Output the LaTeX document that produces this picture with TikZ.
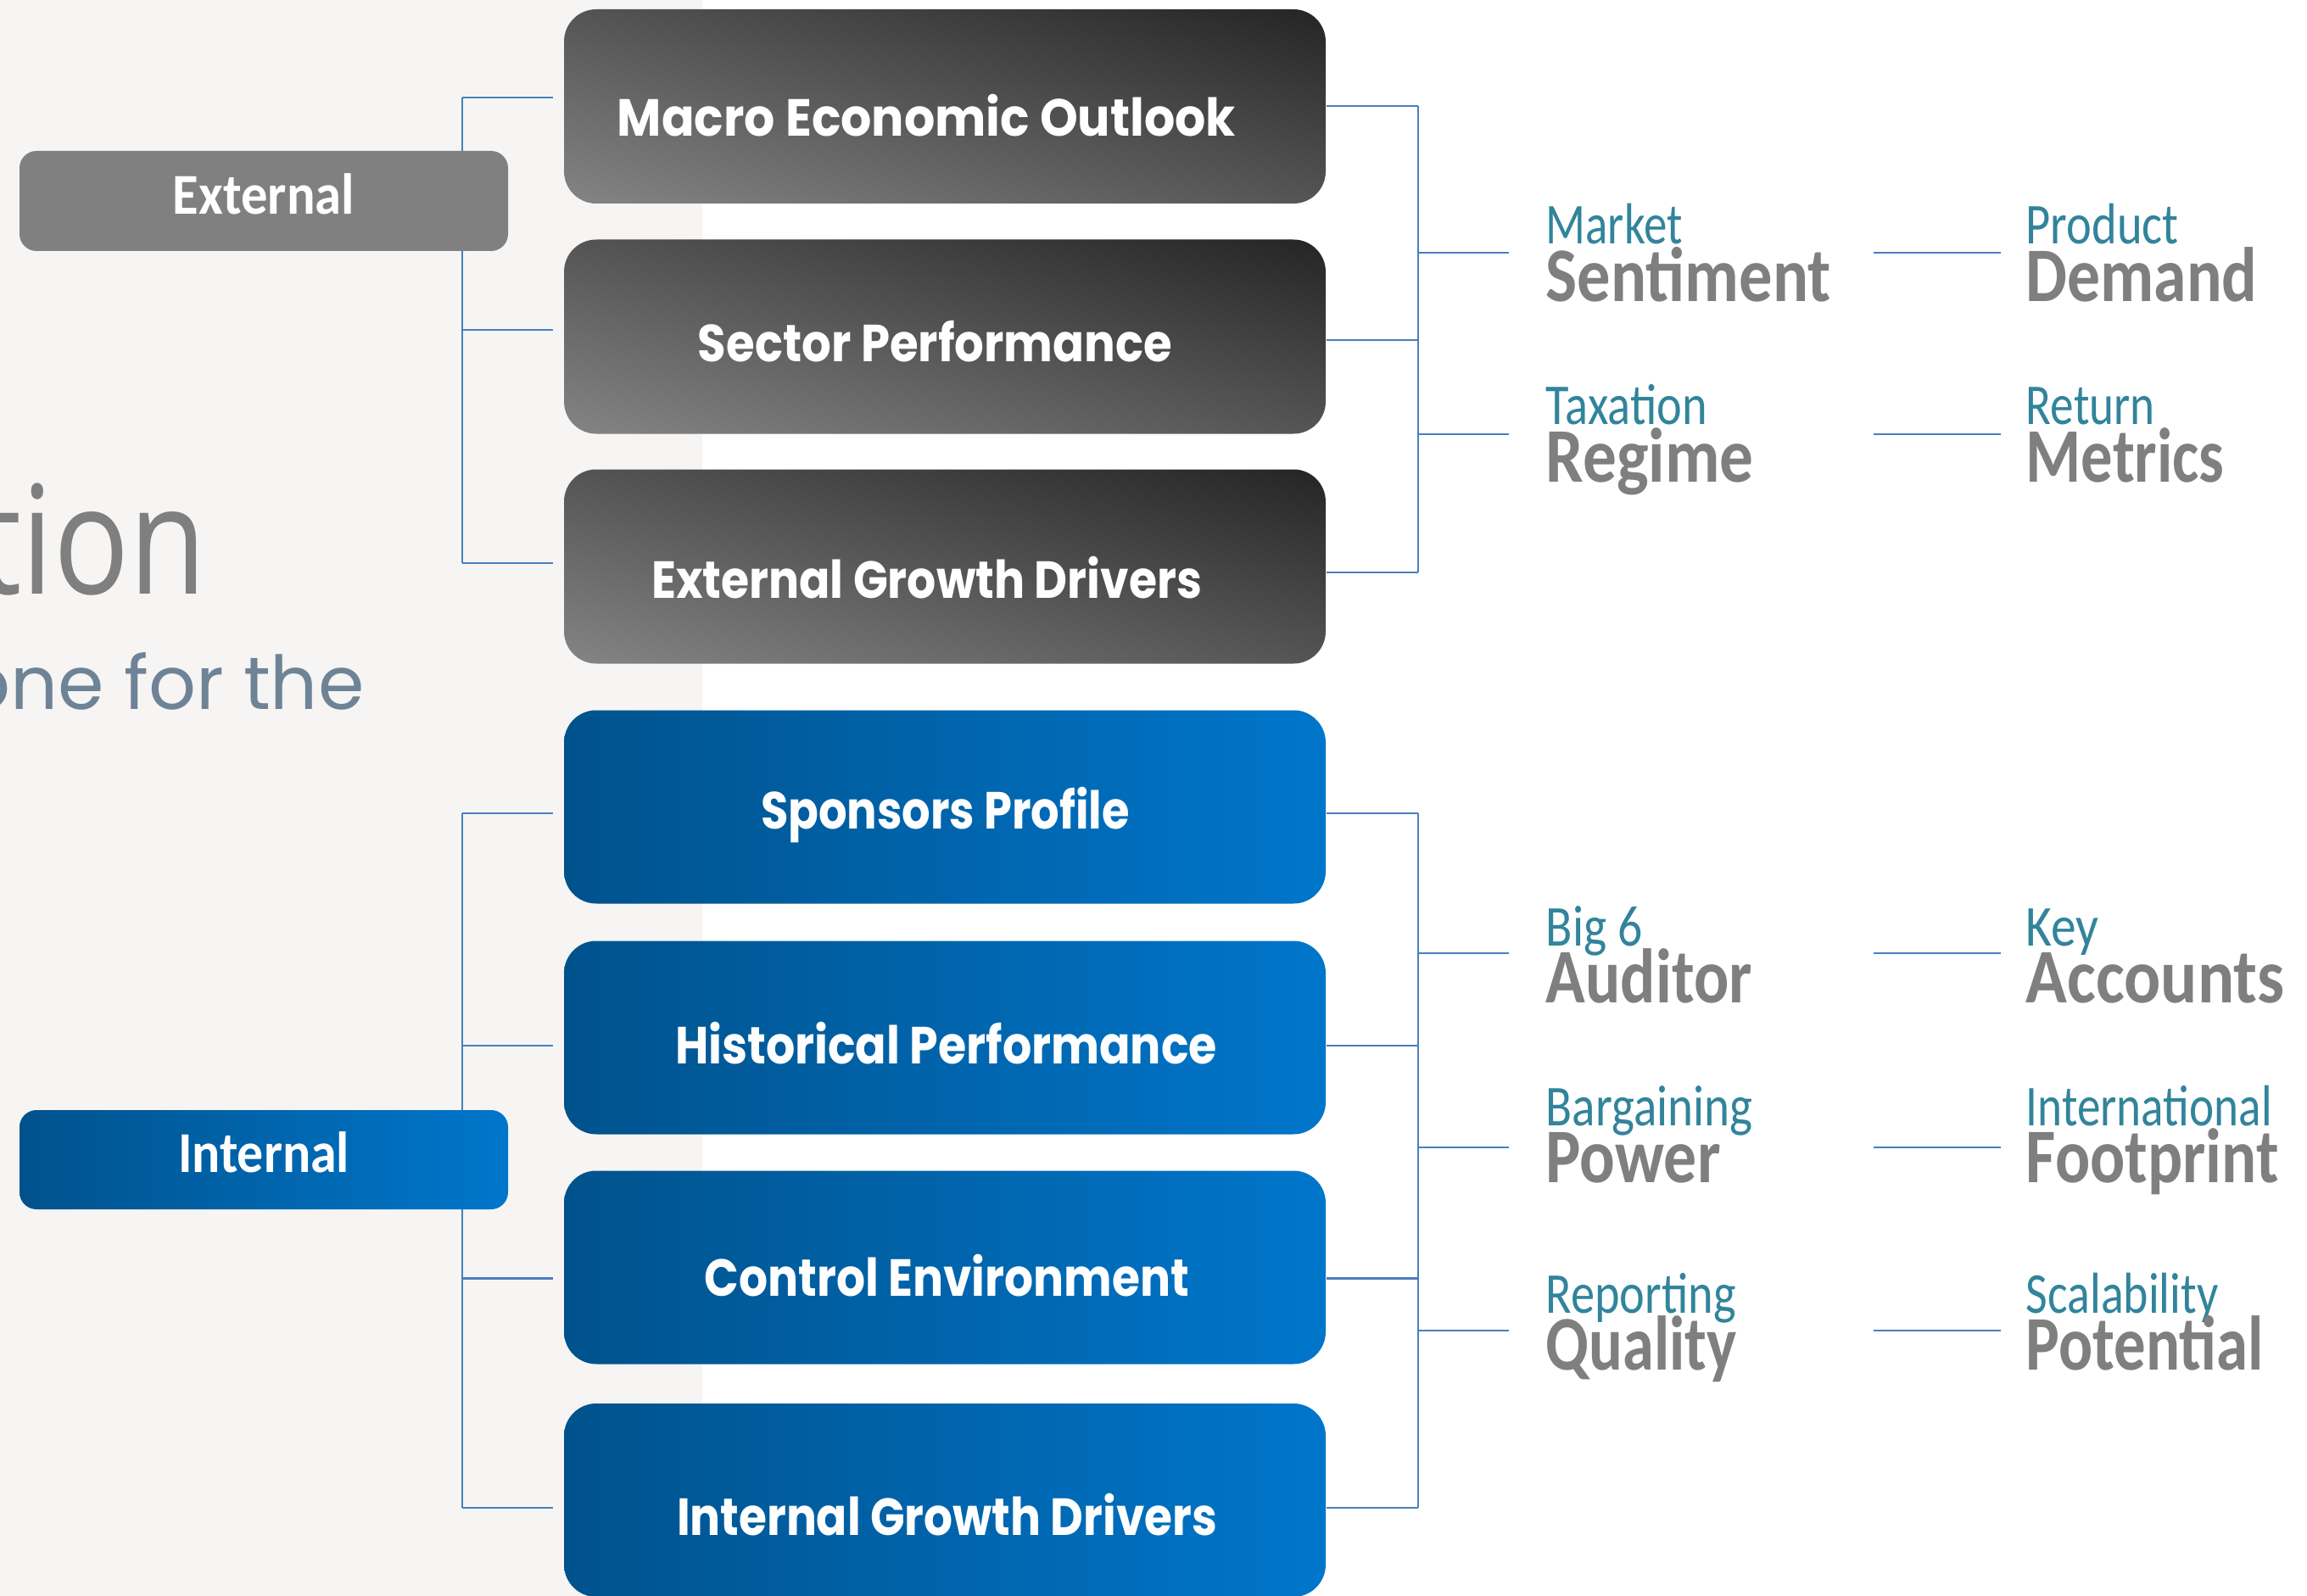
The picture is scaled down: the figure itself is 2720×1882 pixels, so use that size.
\documentclass[tikz,border=0pt]{standalone}
\usepackage{fontspec}
\usepackage{graphicx}
\usetikzlibrary{calc}
\newfontfamily\boxfont{Poppins}
\newfontfamily\lblfont{Carlito}
\newfontfamily\ttlfont{Open Sans}
\newlength\pxu
\setlength\pxu{0.01cm}
\newcommand{\fitw}[2]{\resizebox{#1\pxu}{\height}{#2}}
\definecolor{lineblue}{HTML}{4A7EBF}
\definecolor{bgleft}{HTML}{F6F5F3}
\definecolor{gdark}{HTML}{060606}
\definecolor{glight}{HTML}{A3A3A3}
\definecolor{bdark}{HTML}{00528C}
\definecolor{blight}{HTML}{0076CB}
\definecolor{tealtxt}{HTML}{31849B}
\definecolor{graytxt}{HTML}{7F7F7F}
\definecolor{subtxt}{HTML}{6F8397}
\definecolor{extgray}{HTML}{808080}
\pgfdeclareverticalshading{grayang}{100bp}{color(0bp)=(glight); color(100bp)=(gdark)}
\pgfdeclarelayer{back}
\pgfdeclarelayer{wires}
\pgfsetlayers{back,wires,main}
\begin{document}
\begin{tikzpicture}[x=0.01cm,y=-0.01cm,
  conn/.style={draw=lineblue,line width=2.2\pxu},
  graybox/.style={rounded corners=38\pxu,minimum width=898\pxu,minimum height=229\pxu,inner sep=0pt,shade,shading=grayang,shading angle=-14.3},
  bluebox/.style={rounded corners=38\pxu,minimum width=898\pxu,minimum height=228\pxu,inner sep=0pt,left color=bdark,right color=blight},
  btxt/.style={text=white,inner sep=0pt,anchor=base,font=\boxfont\bfseries\fontsize{17.5pt}{18pt}\selectfont},
  extbox/.style={rounded corners=20\pxu,minimum width=576\pxu,minimum height=118\pxu,inner sep=0pt,fill=extgray},
  intbox/.style={rounded corners=20\pxu,minimum width=576\pxu,minimum height=117\pxu,inner sep=0pt,left color=bdark,right color=blight},
  ltxt/.style={text=white,inner sep=0pt,anchor=base,font=\lblfont\bfseries\fontsize{19.4pt}{20pt}\selectfont},
  sml/.style={text=tealtxt,inner sep=0pt,anchor=base west,font=\lblfont\fontsize{19.4pt}{20pt}\selectfont},
  bigl/.style={text=graytxt,inner sep=0pt,anchor=base west,font=\lblfont\bfseries\fontsize{25.9pt}{26pt}\selectfont},
  ttl/.style={text=graytxt,inner sep=0pt,anchor=base east,font=\ttlfont\fontsize{50.6pt}{51pt}\selectfont},
  subttl/.style={text=subtxt,inner sep=0pt,anchor=base east,font=\boxfont\fontsize{24.9pt}{25pt}\selectfont}
]
\useasboundingbox (0,0) rectangle (2720,1882);
\clip (0,0) rectangle (2720,1882);
\begin{pgfonlayer}{back}
\fill[bgleft] (0,0) rectangle (828,1882);
\fill[white] (828,0) rectangle (2720,1882);
\end{pgfonlayer}

% title fragments
\node[ttl] (tion) at (244,700) {\fitw{270}{tion}};
\node[subttl] (sub) at (430,836) {one for the};

% category boxes
\node[extbox] (ext) at (311,237) {};
\node[ltxt] (extt) at (311,253) {\fitw{214}{External}};
\node[intbox] (int) at (311,1367.5) {};
\node[ltxt] (intt) at (311,1382) {\fitw{202}{Internal}};

% factor boxes
\node[graybox] (g1) at (1114,125.5) {};
\node[graybox] (g2) at (1114,397) {};
\node[graybox] (g3) at (1114,668) {};
\node[bluebox] (b1) at (1114,951.5) {};
\node[bluebox] (b2) at (1114,1223.5) {};
\node[bluebox] (b3) at (1114,1494.5) {};
\node[bluebox] (b4) at (1114,1769) {};

\node[btxt] (g1t) at (1092.5,161) {\fitw{729}{Macro Economic Outlook}};
\node[btxt] (g2t) at (1102.5,426) {\fitw{559}{Sector Performance}};
\node[btxt] (g3t) at (1092.5,705) {\fitw{649}{External Growth Drivers}};
\node[btxt] (b1t) at (1114.5,977) {\fitw{435}{Sponsors Profile}};
\node[btxt] (b2t) at (1115.5,1254) {\fitw{639}{Historical Performance}};
\node[btxt] (b3t) at (1116.5,1528) {\fitw{571}{Control Environment}};
\node[btxt] (b4t) at (1116.5,1810) {\fitw{637}{Internal Growth Drivers}};

% right-hand labels
\node[sml]  (l1a) at (1822,288) {\fitw{161}{Market}};
\node[bigl] (l1b) at (1822,356) {\fitw{336}{Sentiment}};
\node[sml]  (r1a) at (2388,288) {\fitw{180}{Product}};
\node[bigl] (r1b) at (2388,356) {\fitw{273}{Demand}};
\node[sml]  (l2a) at (1822,501) {\fitw{190}{Taxation}};
\node[bigl] (l2b) at (1822,568) {\fitw{245}{Regime}};
\node[sml]  (r2a) at (2388,501) {\fitw{152}{Return}};
\node[bigl] (r2b) at (2388,568) {\fitw{234}{Metrics}};
\node[sml]  (l3a) at (1822,1115) {\fitw{114}{Big 6}};
\node[bigl] (l3b) at (1822,1182) {\fitw{243}{Auditor}};
\node[sml]  (r3a) at (2388,1115) {\fitw{86}{Key}};
\node[bigl] (r3b) at (2388,1182) {\fitw{305}{Accounts}};
\node[sml]  (l4a) at (1822,1327) {\fitw{244}{Bargaining}};
\node[bigl] (l4b) at (1822,1394) {\fitw{206}{Power}};
\node[sml]  (r4a) at (2388,1327) {\fitw{290}{International}};
\node[bigl] (r4b) at (2388,1394) {\fitw{298}{Footprint}};
\node[sml]  (l5a) at (1822,1548) {\fitw{224}{Reporting}};
\node[bigl] (l5b) at (1822,1615) {\fitw{225}{Quality}};
\node[sml]  (r5a) at (2388,1548) {\fitw{227}{Scalability}};
\node[bigl] (r5b) at (2388,1615) {\fitw{280}{Potential}};

% connector points
\coordinate (eb) at ($(ext.east)+(-55,0)$);
\coordinate (ib) at ($(int.east)+(-55,0)$);
\coordinate (rb) at ($(g1.east)+(108,0)$);
\coordinate (g1L) at ($(g1.west)+(-12,-10.5)$);
\coordinate (g2L) at ($(g2.west)+(-12,-8)$);
\coordinate (g3L) at ($(g3.west)+(-12,-4)$);
\coordinate (b1L) at ($(b1.west)+(-12,7.5)$);
\coordinate (b2L) at ($(b2.west)+(-12,9.5)$);
\coordinate (b3L) at ($(b3.west)+(-12,13)$);
\coordinate (b4L) at ($(b4.west)+(-12,9)$);
\coordinate (g1R) at ($(g1.east)+(0,-0.5)$);
\coordinate (g2R) at ($(g2.east)+(0,4)$);
\coordinate (g3R) at ($(g3.east)+(0,7)$);
\coordinate (b1R) at ($(b1.east)+(0,7.5)$);
\coordinate (b2R) at ($(b2.east)+(0,9.5)$);
\coordinate (b3R) at ($(b3.east)+(0,13)$);
\coordinate (b4R) at ($(b4.east)+(0,9)$);
\coordinate (rowA) at (1671,298);
\coordinate (rowB) at (1671,512);
\coordinate (rowC) at (1671,1124);
\coordinate (rowD) at (1671,1353);
\coordinate (rowE) at (1671,1569);

\begin{pgfonlayer}{wires}
% left trees
\draw[conn] (g1L -| eb) -- (g3L -| eb);
\foreach \t in {g1L,g2L,g3L} \draw[conn] (\t -| eb) -- (\t);
\draw[conn] (b1L -| ib) -- (b4L -| ib);
\foreach \t in {b1L,b2L,b3L,b4L} \draw[conn] (\t -| ib) -- (\t);
% right trees
\draw[conn] (g1R -| rb) -- (g3R -| rb);
\foreach \t in {g1R,g2R,g3R} \draw[conn] (\t) -- (\t -| rb);
\draw[conn] (b1R -| rb) -- (b4R -| rb);
\foreach \t in {b1R,b2R,b3R,b4R} \draw[conn] (\t) -- (\t -| rb);
% branches to labels
\foreach \r/\l/\q in {rowA/l1a/r1a,rowB/l2a/r2a,rowC/l3a/r3a,rowD/l4a/r4a,rowE/l5a/r5a}{
  \draw[conn] (\r) -- ($(\r -| \l.west)+(-43,0)$);
  \draw[conn] ($(\r -| \l.west)+(387,0)$) -- ($(\r -| \q.west)+(-29,0)$);
}
\end{pgfonlayer}
\end{tikzpicture}
\end{document}
